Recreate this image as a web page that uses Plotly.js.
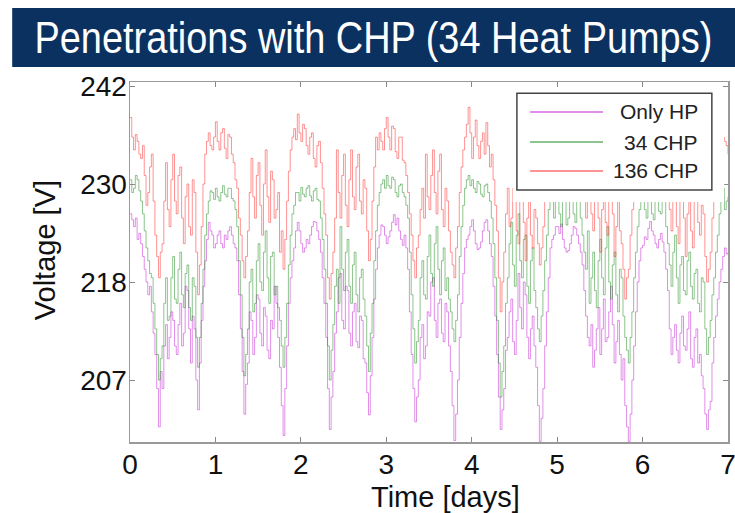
<!DOCTYPE html>
<html>
<head>
<meta charset="utf-8">
<script src="https://cdn.plot.ly/plotly-3.0.1.min.js"></script>
<style>
  html, body { margin: 0; padding: 0; background: #fff; }
  #chart { width: 735px; height: 513px; }
</style>
</head>
<body>
<div id="chart"></div>
<script>
// Feeder voltage over one week, half-hourly samples (time axis in days)
const seriesNames = ['Only HP', '34 CHP', '136 CHP'];

const onlyHP = [
  226.5, 225.8, 225, 226, 223.5, 224.2, 223, 221.5, 220, 218.5, 217, 218, 215, 212.5, 210, 206, 201.5, 208, 206, 211, 213.5, 209.5, 212, 215,
  214, 211, 210, 213.5, 216, 211, 212.5, 218, 217.5, 213, 209, 214.5, 213, 207, 203.5, 209, 214, 218, 221, 223.5, 225.5, 224.5, 224, 222.5,
  223, 224, 224.5, 223, 222.5, 224, 223.5, 224.5, 225, 224, 223, 222.5, 221, 217, 213, 208, 203, 206.5, 209, 215, 214, 210, 212, 217,
  216.5, 212.5, 211, 215.5, 214.5, 210.5, 209.5, 214, 213, 218, 216, 212, 208.5, 204, 200.5, 206, 211, 216, 219, 221, 222.5, 224.5, 225.5, 224.5,
  223, 222, 222.5, 223.5, 223, 224, 225, 225.6, 225.5, 224.5, 223.5, 222, 219, 216, 212, 206, 201.2, 205, 208, 212.5, 215, 219, 219.5, 214,
  213, 218, 217.5, 212.5, 211, 215, 216, 211.5, 210.8, 214.5, 214, 209.5, 209, 205.5, 202.9, 207.5, 212, 216.5, 220, 222.5, 224, 225.2, 225, 224,
  223, 223.8, 224.5, 225.5, 226.4, 225.2, 226, 224.5, 223.5, 222.8, 224, 222.5, 220, 215, 210, 206, 202.1, 205, 207, 212, 213.5, 209.5, 211, 215,
  214.5, 218.5, 219, 214, 212, 216, 216.5, 212.5, 211.5, 216, 215, 211, 208, 204, 199.9, 203, 207, 212, 216, 219.5, 222.5, 223.5, 224, 225,
  225.8, 224.5, 223, 222.3, 222.5, 223.2, 224.5, 225.5, 225.8, 224.5, 223, 221.5, 218, 214.5, 210, 205, 201.2, 203.5, 206, 210.5, 212, 215, 216.5, 211.5,
  210, 214, 219.5, 215.5, 213, 218.5, 217, 212, 209.5, 213, 214.5, 211, 208.5, 204, 199.8, 202.5, 206, 211, 215, 219, 222.5, 223.5, 224, 225,
  225, 224.2, 225.3, 223.5, 222.5, 222, 222.2, 223, 224, 225, 224.8, 224, 223, 222, 220.5, 217.5, 214.5, 212, 211, 213.5, 208.5, 210.5, 213, 215.5,
  210, 213, 216.5, 211.5, 212, 215, 218, 213.5, 209, 211.5, 214, 210, 207, 209.5, 204, 201.5, 199.8, 203, 207, 211, 215, 218.5, 221, 222.5,
  222.8, 223.8, 223.5, 224.8, 225.6, 224.5, 224, 223, 222.5, 223.5, 224.2, 223.2, 222, 220, 217.5, 213, 210, 212, 213.5, 210.5, 209, 212.5, 214.5, 211,
  210.5, 213, 215, 209.5, 208.5, 212, 213, 209, 210, 207.5, 206, 203, 201.2, 203.5, 204.5, 209, 212, 214.5, 216.5, 218.5, 220, 221.5, 222.5, 221.8,
  222
];

const chp34 = [
  230.5, 229, 229.5, 231, 230.5, 229.2, 228, 226.5, 224.5, 222.5, 221, 219.5, 219, 216, 213, 210, 207, 209.5, 211, 216, 219, 214, 214.5, 219,
  221.5, 216.5, 216, 220, 222, 217, 215.5, 219.5, 220.5, 215.5, 214, 219, 218, 212, 208.5, 212, 216, 220, 224, 226.5, 228, 229.2, 229, 228.2,
  229.5, 228.5, 228, 229, 229.8, 228.8, 228.5, 229.5, 229.5, 228.3, 228, 227, 225, 221, 217, 212, 207.5, 210, 213, 218.5, 220, 215, 216, 221,
  223, 218.5, 217.5, 222, 224.5, 219, 216, 221.5, 222, 217, 218, 215.5, 214, 211, 208.5, 212, 216, 220.5, 224, 226.5, 227.5, 229, 229, 228,
  229.6, 228.8, 228.5, 229.5, 229.8, 228.6, 228, 229.2, 229.5, 228.2, 228, 226, 223.5, 220, 216, 211, 207, 210.5, 213.5, 218, 220, 216, 225, 220,
  217.5, 222, 223.5, 218, 216, 220.5, 222, 217, 215, 219, 220, 216.5, 214.5, 211, 208, 212.5, 216, 221, 224.5, 227.5, 229, 230, 230.5, 229.5,
  231, 229.8, 229.5, 230.8, 230.5, 229, 228.5, 229.8, 230, 229, 228.5, 227.5, 226, 222, 217, 213, 209, 211.5, 214, 219, 221, 217, 216.5, 221.5,
  224, 219.5, 218, 223, 225, 220, 217, 221, 222.5, 217.5, 219, 216.5, 215, 213, 211.5, 214, 217, 221.5, 225, 227.5, 229.5, 230.5, 231, 229.8,
  230.5, 229.5, 229, 230.3, 230, 228.8, 228.5, 229.8, 230, 229, 228, 226, 223, 219, 214, 209, 205, 208, 211, 216, 219, 223, 225.5, 220.5,
  218, 224, 226.5, 221, 219, 223.5, 224, 218, 216, 221, 222.5, 217.5, 215.5, 213, 211.5, 214.5, 217.5, 221, 224, 227, 228, 229.5, 226, 229,
  229.5, 226.5, 225, 229.5, 229, 225.2, 226, 229.5, 230, 226.5, 225.5, 229, 228.5, 226, 224, 222, 220, 224.5, 216, 219, 222, 217.5, 215.5, 221,
  223.5, 219, 217, 222.5, 225, 218.5, 216.5, 220.5, 222, 217, 215, 220, 219, 214.5, 212, 210.5, 209, 212, 215, 219, 222, 225, 227, 229.5,
  229.5, 227, 226, 229.8, 230, 226.5, 225.8, 229, 229, 226.8, 226.5, 229.2, 228.5, 225, 223, 220.5, 218, 222, 224, 219, 216, 220.5, 221.5, 217.5,
  217, 221, 222, 218, 216.5, 219.5, 220, 216, 215, 219, 218.5, 213, 210, 212, 214, 217, 219, 222, 224, 226.5, 228, 229.5, 227, 228,
  228.5
];

const chp136 = [
  237.8, 235.5, 234, 235.8, 235, 233.5, 233, 234.5, 231, 227.5, 229, 232, 233.5, 228, 224, 221.5, 219, 222, 223, 228, 232.5, 227, 225, 230.5,
  233.5, 228, 226.5, 231, 232, 226, 223, 228.5, 230, 225, 224, 230.5, 229, 222, 217, 220.5, 225, 230, 233.5, 235, 236, 234.5, 234, 235.5,
  237.3, 235, 234, 236, 236.5, 234.2, 233, 235.8, 235.5, 233.5, 232.5, 230.5, 229.5, 226, 224, 221, 219, 221.5, 224.5, 229, 233, 228.5, 226, 231,
  232.5, 227.5, 224, 230, 234, 228.5, 225.5, 231.5, 230.5, 226, 227, 229, 222, 224.5, 220, 223.5, 228, 231.5, 234, 235.5, 236.5, 235.2, 238.2, 236,
  235, 237, 236.5, 234.5, 233.5, 235.5, 236, 233, 232, 234.5, 235, 232.5, 229.5, 226.5, 224, 219, 216.5, 219.5, 222, 226, 234, 229, 226, 231,
  233.5, 227.5, 225, 230.5, 234, 228.5, 227, 232, 233.5, 228, 226.5, 230.5, 229.5, 224.5, 221, 223.5, 228, 232, 235.5, 234, 236, 235, 234, 236.5,
  237.8, 235.5, 234, 236.8, 236.5, 233.8, 233, 235.5, 235.5, 232.8, 232.5, 231, 229, 226.5, 224, 221, 219, 222.5, 224, 227, 229.5, 226, 233.5, 228.5,
  227, 231, 234, 229, 226.5, 231.5, 233.5, 227, 225, 229.5, 228, 224.5, 222, 220.5, 219, 222.5, 225, 229, 232, 234, 235.5, 237, 239, 236,
  233, 235.5, 237.5, 234.5, 233, 235, 236, 233.5, 237.2, 234.5, 232, 233.5, 230.5, 227.5, 224.5, 219, 215, 218.5, 222, 226.5, 229.5, 225, 226, 229.5,
  229, 224.5, 223, 228, 231, 225.5, 221, 226, 230, 224, 222.5, 227, 226, 223, 220.5, 222.5, 225, 229.5, 232, 234, 235, 236.5, 236, 234.5,
  236, 234, 233, 235.5, 236.5, 234, 233.5, 235, 235.5, 233, 232, 234.5, 234.5, 232, 231, 228, 226, 229, 229.5, 226.5, 224.5, 228.5, 231, 226,
  222, 227, 230, 225.5, 224, 229.5, 231, 226.5, 221.5, 225, 229, 224.5, 223, 220, 216.5, 219, 220, 224, 227, 230.5, 233, 235, 236, 234.5,
  237, 235, 234, 236.5, 236, 234, 233.5, 235.5, 236.5, 234, 233, 235.5, 234.5, 232, 230, 227, 224.5, 228, 229.5, 225, 223, 228.5, 231, 226,
  221.5, 226.5, 229, 224.5, 222.5, 228, 230, 225.5, 224, 227.5, 226.5, 221.5, 218.5, 220, 222, 226, 228.5, 231, 233, 235, 236, 235.5, 235, 234.5,
  233.5
];

const dayTicks = [0, 1, 2, 3, 4, 5, 6, 7];
const voltTickVals = [207, 218.5, 230, 241.5];
const voltTickText = ['207', '218', '230', '242'];

const lineColors = ['rgba(200,50,215,0.55)', 'rgba(30,140,30,0.5)', 'rgba(255,40,40,0.5)'];
const seriesData = [onlyHP, chp34, chp136];

const traces = seriesData.map((vals, i) => ({
  type: 'scatter',
  mode: 'lines',
  name: seriesNames[i],
  x0: 0,
  dx: 1 / 48,
  y: vals,
  line: { color: lineColors[i], width: 1, shape: 'hv' },
  hoverinfo: 'skip'
}));

const tickFont = { family: 'Liberation Sans, Arial, sans-serif', size: 28, color: '#111' };
const labelFont = { family: 'Liberation Sans, Arial, sans-serif', size: 29, color: '#111' };

// legend built from shapes + annotations so the sample lines can be long and labels right-aligned
const legendRows = [0.9167, 0.8333, 0.7528];
const legendShapes = [
  { type: 'rect', xref: 'paper', yref: 'paper', x0: 0.647, x1: 0.973, y0: 0.7, y1: 0.969,
    fillcolor: '#fff', line: { color: '#444', width: 1.5 }, layer: 'above' }
].concat(legendRows.map((yy, i) => ({
  type: 'line', xref: 'paper', yref: 'paper', x0: 0.669, x1: 0.791, y0: yy, y1: yy,
  line: { color: lineColors[i], width: 2 }, layer: 'above'
})));
const legendLabels = legendRows.map((yy, i) => ({
  xref: 'paper', yref: 'paper', x: 0.953, y: yy, xanchor: 'right', yanchor: 'middle',
  text: seriesNames[i], showarrow: false,
  font: { family: 'Liberation Sans, Arial, sans-serif', size: 21, color: '#222' }
}));

const layout = {
  width: 735,
  height: 513,
  margin: { l: 130, r: 7, t: 82, b: 71 },
  paper_bgcolor: '#fff',
  plot_bgcolor: '#fff',
  showlegend: false,
  title: {
    text: 'Penetrations with CHP (34 Heat Pumps)',
    font: { family: 'Liberation Sans, Arial, sans-serif', size: 44, color: '#fff' },
    x: 0.508, xanchor: 'center', y: 0.926, yanchor: 'middle'
  },
  xaxis: {
    range: [0, 7],
    tickvals: dayTicks,
    ticks: 'inside', ticklen: 5, tickcolor: '#888', tickwidth: 1,
    showline: true, linecolor: '#999', linewidth: 1.5, mirror: 'ticks',
    showgrid: false, zeroline: false,
    ticklabeloverflow: 'allow',
    ticklabelstandoff: -3,
    tickfont: tickFont
  },
  yaxis: {
    range: [199.73, 241.97],
    tickvals: voltTickVals,
    ticktext: voltTickText,
    ticks: 'inside', ticklen: 5, tickcolor: '#888', tickwidth: 1,
    showline: true, linecolor: '#999', linewidth: 1.5, mirror: 'ticks',
    showgrid: false, zeroline: false,
    ticklabelstandoff: -4,
    tickfont: tickFont
  },
  shapes: [
    // title banner
    { type: 'rect', xref: 'paper', yref: 'paper', x0: -0.197, x1: 1.02, y0: 1.0417, y1: 1.2056,
      fillcolor: '#0b3161', line: { width: 0 }, layer: 'below' },
    // blank panel behind the legend
    { type: 'rect', xref: 'x', yref: 'y', x0: 4.48, x1: 6.955, y0: 227.9, y1: 241.3,
      fillcolor: '#fff', line: { width: 0 }, layer: 'above' }
  ].concat(legendShapes),
  annotations: [
    { xref: 'paper', yref: 'paper', x: -0.142, y: 0.533, textangle: -90, showarrow: false,
      text: 'Voltage [V]', xanchor: 'center', yanchor: 'middle', font: labelFont },
    { xref: 'paper', yref: 'paper', x: 0.528, y: -0.153, showarrow: false,
      text: 'Time [days]', xanchor: 'center', yanchor: 'middle', font: labelFont }
  ].concat(legendLabels)
};

Plotly.newPlot('chart', traces, layout, { staticPlot: true, displayModeBar: false }).then(() => {
  // condense the banner title horizontally so it fits the banner like a narrow face
  const t = document.querySelector('.gtitle');
  if (!t) return;
  const bb = t.getBBox();
  const targetWidth = 678;
  if (bb.width > 0) {
    const s = Math.min(1, targetWidth / bb.width);
    const cx = bb.x + bb.width / 2;
    const prev = t.getAttribute('transform') || '';
    t.setAttribute('transform', prev + ' translate(' + cx + ',0) scale(' + s + ',1) translate(' + (-cx) + ',0)');
  }
});
</script>
</body>
</html>
